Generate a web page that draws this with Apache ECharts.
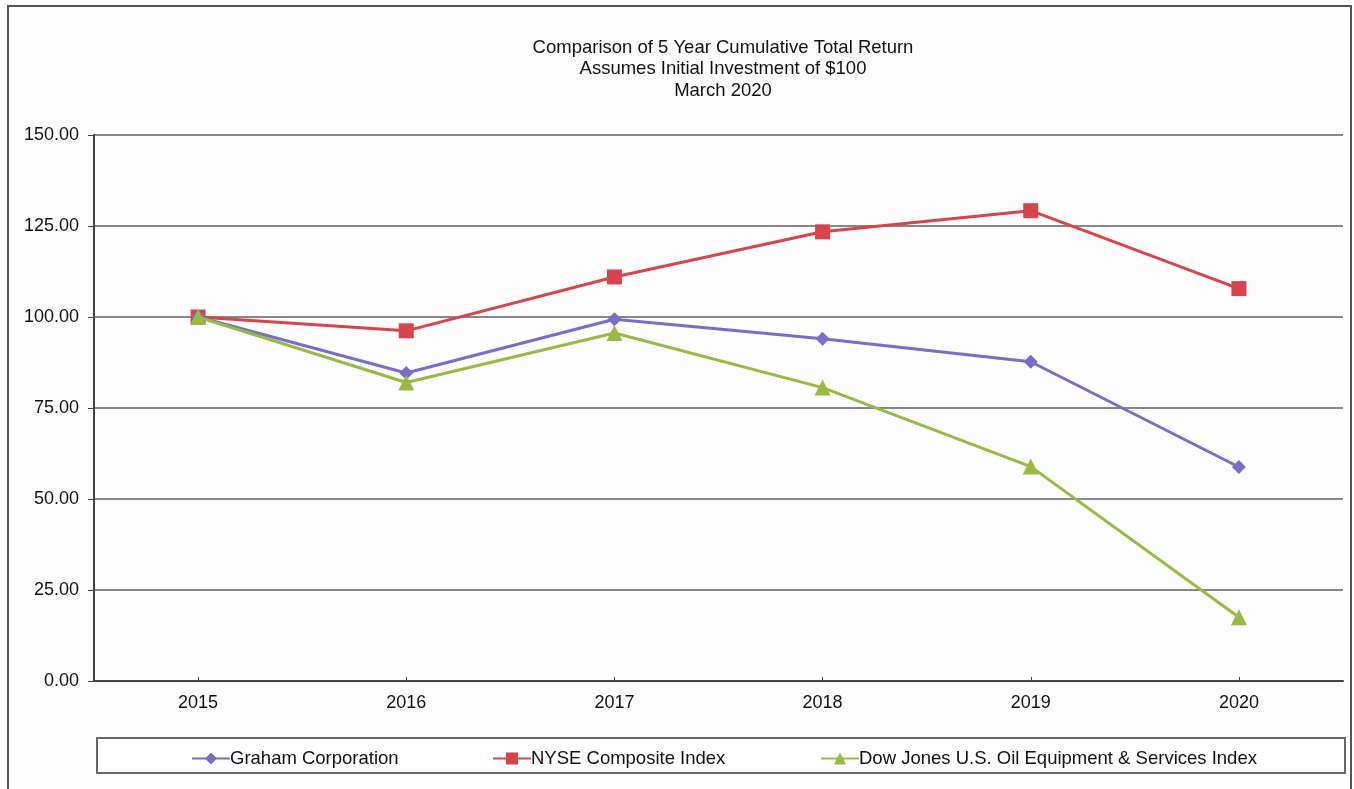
<!DOCTYPE html>
<html>
<head>
<meta charset="utf-8">
<script src="https://cdn.jsdelivr.net/npm/echarts@6/dist/echarts.min.js"></script>
<style>
html,body{margin:0;padding:0;background:#fff;}
#chart{width:1354px;height:789px;}
</style>
</head>
<body>
<div id="chart"></div>
<script>
const categories = ['2015', '2016', '2017', '2018', '2019', '2020'];
const graham = [100.00, 84.6, 99.4, 94.0, 87.7, 58.8];
const nyse = [100.00, 96.2, 111.0, 123.4, 129.2, 107.8];
const dowJones = [100.00, 82.0, 95.6, 80.6, 58.9, 17.5];
const seriesNames = ['Graham Corporation', 'NYSE Composite Index', 'Dow Jones U.S. Oil Equipment & Services Index'];
const titleLines = ['Comparison of 5 Year Cumulative Total Return', 'Assumes Initial Investment of $100', 'March 2020'];

const chart = echarts.init(document.getElementById('chart'));
const font = 'Liberation Sans, Arial, sans-serif';
const colors = ['#7a6cc8', '#d6454c', '#97bb42'];

const legendLeft = [186, 487, 815];
chart.setOption({
  backgroundColor: '#fdfdfd',
  animation: false,
  title: {
    text: titleLines.join('\n'),
    left: 718, top: 32, textAlign: 'center',
    textStyle: { fontFamily: font, fontSize: 18.5, fontWeight: 'normal', color: '#111', lineHeight: 21.5 }
  },
  graphic: [
    { type: 'rect', shape: { x: 8, y: 6, width: 1343, height: 800 }, style: { fill: 'none', stroke: '#555', lineWidth: 2 }, z: 0 },
    { type: 'rect', shape: { x: 97, y: 738, width: 1248, height: 35 }, style: { fill: '#fff', stroke: '#666', lineWidth: 2 }, z: 0 }
  ],
  legend: seriesNames.map((n, i) => ({
    data: [n], left: legendLeft[i], top: 744, itemWidth: 38, itemHeight: 15,
    textStyle: { fontFamily: font, fontSize: 18.5, color: '#111', padding: [0, 0, 0, -5] },
    z: 5
  })),
  grid: { left: 94, right: 11, top: 135, bottom: 108 },
  xAxis: {
    type: 'category', data: categories, boundaryGap: true,
    axisLine: { lineStyle: { color: '#444', width: 2 } },
    axisTick: { show: true, alignWithLabel: true, inside: true, length: 4, lineStyle: { color: '#444' } },
    axisLabel: { fontFamily: font, fontSize: 18, color: '#111', margin: 13 }
  },
  yAxis: {
    type: 'value', min: 0, max: 150, interval: 25,
    axisLine: { show: true, lineStyle: { color: '#444', width: 2 } },
    axisTick: { show: true, length: 6, lineStyle: { color: '#444' } },
    splitLine: { lineStyle: { color: '#888', width: 2 } },
    axisLabel: { fontFamily: font, fontSize: 18, color: '#111', margin: 15, formatter: v => v.toFixed(2) }
  },
  series: [
    { name: seriesNames[0], type: 'line', data: graham, color: colors[0], symbol: 'diamond', symbolSize: 14, lineStyle: { width: 3 }, z: 4 },
    { name: seriesNames[1], type: 'line', data: nyse, color: colors[1], symbol: 'rect', symbolSize: 15, lineStyle: { width: 3 }, z: 3 },
    { name: seriesNames[2], type: 'line', data: dowJones, color: colors[2], symbol: 'triangle', symbolSize: 16, lineStyle: { width: 3 }, z: 5 }
  ]
});
</script>
</body>
</html>
